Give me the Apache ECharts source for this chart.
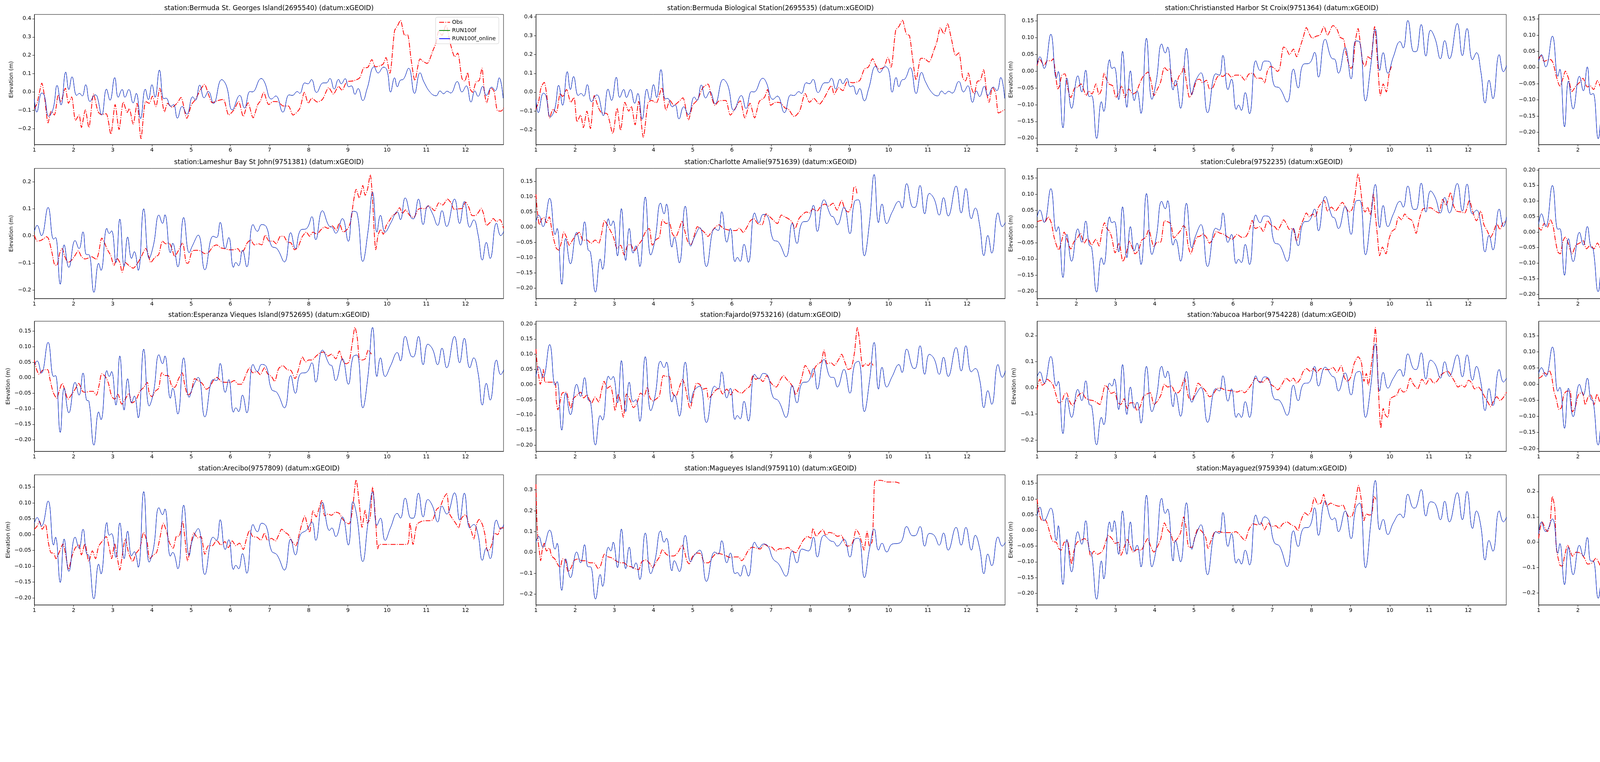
<!DOCTYPE html>
<html><head><meta charset="utf-8">
<script src="https://cdn.jsdelivr.net/npm/echarts@6/dist/echarts.min.js"></script>
<style>html,body{margin:0;padding:0;background:#fff}#c{width:5150px;height:1950px}</style>
</head><body><div id="c"></div>
<script>
// ---------- panel titles ----------
const titles = [
 "station:Bermuda St. Georges Island(2695540) (datum:xGEOID)",
 "station:Bermuda Biological Station(2695535) (datum:xGEOID)",
 "station:Christiansted Harbor St Croix(9751364) (datum:xGEOID)",
 "station:Lime Tree Bay(9751401) (datum:xGEOID)",
 "station:Lameshur Bay St John(9751381) (datum:xGEOID)",
 "station:Charlotte Amalie(9751639) (datum:xGEOID)",
 "station:Culebra(9752235) (datum:xGEOID)",
 "station:Isabel Segunda Vieques Island(9752619) (datum:xGEOID)",
 "station:Esperanza Vieques Island(9752695) (datum:xGEOID)",
 "station:Fajardo(9753216) (datum:xGEOID)",
 "station:Yabucoa Harbor(9754228) (datum:xGEOID)",
 "station:San Juan La Puntilla San Juan Bay(9755371) (datum:xGEOID)",
 "station:Arecibo(9757809) (datum:xGEOID)",
 "station:Magueyes Island(9759110) (datum:xGEOID)",
 "station:Mayaguez(9759394) (datum:xGEOID)",
 "station:Mona Island(9759938) (datum:xGEOID)"
];
const legendNames = ["Obs","RUN100f","RUN100f_online"];
const xTicks = [1,2,3,4,5,6,7,8,9,10,11,12];
const xMin = 1, xMax = 12.97;
// y-axis limits and tick steps per panel
const yMin  = [-0.286,-0.279,-0.219,-0.238,-0.231,-0.234,-0.222,-0.214,-0.237,-0.220,-0.243,-0.2085,-0.222,-0.252,-0.237,-0.247];
const yMax  = [0.423,0.4135,0.169,0.164,0.249,0.193,0.1795,0.205,0.182,0.209,0.255,0.195,0.189,0.3725,0.177,0.266];
const yStep = [0.1,0.1,0.05,0.05,0.1,0.05,0.05,0.05,0.05,0.05,0.1,0.05,0.05,0.1,0.05,0.1];

// ---------- model (RUN100f / RUN100f_online overlap) ----------
const bermudaT = [1.00,1.06,1.19,1.25,1.37,1.48,1.58,1.68,1.80,1.88,1.96,2.08,2.15,2.22,2.31,2.42,2.55,2.60,2.72,2.84,2.93,3.05,3.14,3.24,3.31,3.41,3.52,3.60,3.71,3.83,3.91,4.00,4.08,4.19,4.30,4.36,4.48,4.55,4.65,4.77,4.89,5.04,5.11,5.22,5.33,5.44,5.57,5.78,5.90,6.05,6.24,6.36,6.50,6.56,6.79,6.87,7.05,7.16,7.34,7.50,7.58,7.71,7.77,7.90,7.98,8.07,8.20,8.37,8.45,8.54,8.65,8.76,8.83,8.93,9.02,9.09,9.18,9.26,9.38,9.49,9.67,9.77,9.91,10.00,10.09,10.19,10.26,10.34,10.41,10.55,10.70,10.84,10.94,11.11,11.25,11.35,11.44,11.53,11.62,11.79,11.91,12.02,12.14,12.24,12.32,12.44,12.53,12.67,12.76,12.86,12.96];
const bermudaModel = [-0.038,-0.109,-0.005,-0.016,-0.132,-0.090,0.036,-0.070,0.109,0.014,0.083,-0.018,-0.007,-0.021,0.040,-0.051,-0.015,-0.023,-0.125,0.016,-0.044,0.079,-0.028,0.014,-0.028,0.014,-0.059,-0.007,-0.144,0.016,-0.041,0.040,-0.028,0.120,-0.036,-0.033,-0.078,-0.068,-0.142,-0.078,-0.120,-0.026,-0.044,0.038,-0.031,0.003,-0.062,0.068,0.034,-0.097,-0.018,-0.087,0.003,0.001,0.074,0.055,-0.038,-0.021,-0.109,-0.015,-0.018,0.003,-0.007,0.050,0.045,0.068,-0.002,0.050,0.050,0.074,0.017,0.069,0.045,0.073,0.029,0.034,-0.012,0.019,-0.046,0.019,0.138,0.104,0.136,0.117,0.000,0.078,0.029,0.065,0.069,0.130,-0.007,0.105,0.055,-0.004,-0.020,0.006,-0.009,0.005,-0.005,0.057,0.001,0.034,-0.054,0.006,-0.023,0.031,-0.018,0.027,0.008,0.078,-0.033];

const caribT = [1.00,1.07,1.18,1.35,1.49,1.54,1.66,1.76,1.88,2.04,2.14,2.24,2.33,2.39,2.52,2.64,2.70,2.85,2.91,2.97,3.08,3.18,3.29,3.38,3.48,3.55,3.65,3.79,3.93,4.04,4.18,4.27,4.33,4.47,4.53,4.66,4.81,4.95,5.03,5.18,5.35,5.56,5.65,5.74,5.87,5.96,6.08,6.14,6.21,6.31,6.42,6.58,6.69,6.80,6.92,7.05,7.19,7.38,7.54,7.66,7.79,7.95,8.08,8.18,8.35,8.53,8.59,8.69,8.86,9.01,9.13,9.23,9.38,9.51,9.63,9.74,9.83,9.95,10.09,10.26,10.34,10.46,10.61,10.67,10.80,10.92,11.04,11.16,11.29,11.40,11.52,11.72,11.85,11.97,12.11,12.21,12.32,12.43,12.53,12.63,12.79,12.90,12.98];

const modelChristiansted = [0.020,0.043,0.008,0.110,-0.021,-0.001,-0.169,-0.021,-0.111,-0.014,
-0.062,0.003,-0.076,-0.073,-0.201,-0.091,-0.120,0.034,0.008,0.012,
-0.085,0.059,-0.108,0.001,-0.088,-0.059,-0.126,0.098,-0.084,-0.030,
0.081,0.054,0.072,-0.056,-0.027,-0.111,0.068,-0.070,-0.033,-0.005,
-0.124,-0.008,-0.012,0.047,-0.055,-0.024,-0.114,-0.101,-0.117,-0.064,
-0.127,0.031,0.002,0.030,0.029,-0.043,-0.051,-0.092,0.006,-0.050,
0.020,0.024,0.056,-0.018,0.095,0.037,0.036,-0.006,0.070,-0.023,
0.090,0.087,-0.089,0.014,0.125,0.002,0.055,-0.006,0.043,0.088,
0.069,0.151,0.058,0.058,0.139,0.045,0.122,0.095,0.037,0.091,
0.037,0.142,0.046,0.127,0.034,0.055,0.000,-0.095,-0.027,-0.082,
0.049,-0.002,0.017];
const modelLimeTree = [0.019,0.040,0.002,0.097,-0.027,-0.005,-0.183,-0.042,-0.128,-0.027,
-0.072,0.002,-0.084,-0.080,-0.220,-0.108,-0.141,0.022,0.001,0.010,
-0.095,0.062,-0.108,-0.001,-0.087,-0.063,-0.128,0.093,-0.096,-0.045,
0.073,0.041,0.069,-0.069,-0.033,-0.116,0.070,-0.066,-0.036,0.001,
-0.129,-0.004,-0.011,0.048,-0.052,-0.008,-0.114,-0.098,-0.108,-0.054,
-0.112,0.047,0.019,0.047,0.045,-0.030,-0.039,-0.084,0.021,-0.039,
0.031,0.034,0.077,-0.010,0.102,0.043,0.041,-0.004,0.071,-0.019,
0.070,0.079,-0.093,0.016,0.145,0.010,0.066,0.004,0.046,0.087,
0.062,0.144,0.065,0.064,0.141,0.051,0.122,0.100,0.046,0.100,
0.037,0.135,0.045,0.125,0.025,0.051,0.010,-0.096,-0.030,-0.086,
0.046,-0.002,0.015];
const modelLameshur = [0.017,0.039,0.001,0.105,-0.012,-0.006,-0.178,-0.033,-0.116,-0.017,
-0.047,0.015,-0.069,-0.069,-0.208,-0.101,-0.127,0.028,0.009,0.019,
-0.098,0.062,-0.112,-0.004,-0.083,-0.058,-0.127,0.100,-0.083,-0.033,
0.077,0.046,0.078,-0.062,-0.027,-0.114,0.068,-0.062,-0.037,0.003,
-0.125,-0.001,-0.006,0.050,-0.047,-0.006,-0.116,-0.098,-0.110,-0.053,
-0.114,0.042,0.017,0.042,0.033,-0.037,-0.047,-0.096,0.012,-0.047,
0.021,0.028,0.071,-0.014,0.093,0.035,0.033,0.010,0.064,-0.020,
0.091,0.086,-0.094,0.014,0.161,0.014,0.076,0.014,0.047,0.089,
0.060,0.140,0.068,0.063,0.136,0.042,0.111,0.082,0.039,0.093,
0.035,0.136,0.046,0.127,0.032,0.059,0.005,-0.089,-0.024,-0.083,
0.047,0.001,0.017];
const modelCharlotte = [0.018,0.040,0.002,0.095,-0.024,-0.004,-0.187,-0.037,-0.120,-0.017,
-0.059,0.018,-0.074,-0.081,-0.213,-0.104,-0.138,0.028,0.005,0.021,
-0.094,0.061,-0.109,-0.004,-0.085,-0.061,-0.129,0.099,-0.091,-0.040,
0.079,0.044,0.076,-0.065,-0.033,-0.117,0.069,-0.062,-0.037,-0.001,
-0.129,-0.004,-0.011,0.051,-0.049,-0.004,-0.113,-0.099,-0.112,-0.056,
-0.115,0.047,0.015,0.042,0.034,-0.040,-0.049,-0.097,0.013,-0.053,
0.015,0.022,0.072,-0.014,0.090,0.037,0.034,0.008,0.066,-0.021,
0.085,0.090,-0.094,0.015,0.173,0.015,0.076,0.012,0.050,0.085,
0.063,0.143,0.066,0.065,0.137,0.044,0.111,0.093,0.040,0.097,
0.037,0.135,0.047,0.127,0.028,0.063,0.008,-0.093,-0.027,-0.085,
0.047,0.002,0.016];
const modelCulebra = [0.030,0.051,0.013,0.117,-0.015,0.000,-0.157,-0.024,-0.107,-0.007,
-0.048,0.017,-0.057,-0.063,-0.202,-0.096,-0.117,0.030,0.012,0.016,
-0.078,0.061,-0.096,0.000,-0.075,-0.051,-0.117,0.102,-0.086,-0.033,
0.078,0.055,0.080,-0.057,-0.039,-0.107,0.072,-0.066,-0.033,0.006,
-0.123,-0.005,-0.011,0.042,-0.049,-0.024,-0.114,-0.101,-0.111,-0.055,
-0.117,0.036,0.012,0.033,0.030,-0.048,-0.057,-0.107,-0.005,-0.059,
0.012,0.019,0.054,-0.013,0.093,0.030,0.027,-0.006,0.062,-0.024,
0.078,0.081,-0.087,0.024,0.130,-0.003,0.065,0.000,0.039,0.078,
0.060,0.125,0.053,0.053,0.134,0.045,0.110,0.089,0.042,0.090,
0.042,0.133,0.048,0.131,0.039,0.051,0.009,-0.078,-0.027,-0.072,
0.054,0.000,0.030];
const modelIsabel = [0.025,0.059,0.018,0.150,0.009,0.011,-0.139,-0.021,-0.095,-0.001,
-0.042,0.018,-0.048,-0.054,-0.192,-0.091,-0.100,0.032,0.018,0.023,
-0.060,0.082,-0.092,0.006,-0.070,-0.048,-0.117,0.100,-0.076,-0.027,
0.076,0.059,0.081,-0.050,-0.038,-0.104,0.074,-0.048,-0.023,0.006,
-0.121,-0.010,-0.013,0.037,-0.048,-0.016,-0.117,-0.106,-0.115,-0.060,
-0.123,0.028,0.013,0.034,0.031,-0.054,-0.058,-0.113,-0.013,-0.060,
0.011,0.011,0.048,-0.018,0.091,0.026,0.023,-0.006,0.056,-0.032,
0.081,0.081,-0.086,0.018,0.128,-0.023,0.053,-0.010,0.025,0.075,
0.050,0.122,0.040,0.043,0.130,0.037,0.108,0.087,0.037,0.087,
0.037,0.130,0.047,0.130,0.047,0.047,0.018,-0.073,-0.018,-0.062,
0.062,0.018,0.037];
const modelEsperanza = [0.042,0.054,0.015,0.114,0.004,0.007,-0.176,-0.034,-0.113,-0.015,
-0.056,0.015,-0.072,-0.075,-0.217,-0.110,-0.135,0.023,0.004,0.020,
-0.088,0.070,-0.104,-0.003,-0.081,-0.059,-0.129,0.092,-0.091,-0.047,
0.074,0.045,0.070,-0.066,-0.034,-0.117,0.064,-0.063,-0.034,0.001,
-0.126,-0.006,-0.009,0.046,-0.047,-0.006,-0.111,-0.097,-0.109,-0.056,
-0.113,0.043,0.020,0.043,0.035,-0.037,-0.048,-0.097,0.007,-0.050,
0.013,0.018,0.048,-0.014,0.089,0.042,0.039,-0.009,0.061,-0.021,
0.067,0.073,-0.097,0.004,0.162,0.004,0.064,0.004,0.039,0.081,
0.054,0.133,0.070,0.067,0.133,0.042,0.108,0.092,0.042,0.095,
0.032,0.133,0.048,0.127,0.032,0.064,0.016,-0.088,-0.018,-0.072,
0.057,0.010,0.026];
const modelFajardo = [0.027,0.059,0.024,0.132,-0.002,0.010,-0.150,-0.028,-0.099,0.001,
-0.039,0.023,-0.050,-0.054,-0.199,-0.102,-0.117,0.028,0.017,0.027,
-0.060,0.079,-0.089,0.008,-0.057,-0.050,-0.121,0.092,-0.086,-0.037,
0.077,0.056,0.074,-0.057,-0.034,-0.104,0.074,-0.060,-0.021,-0.005,
-0.125,-0.005,-0.015,0.042,-0.044,-0.012,-0.115,-0.102,-0.113,-0.055,
-0.120,0.034,0.019,0.037,0.028,-0.041,-0.054,-0.108,-0.003,-0.060,
0.005,0.011,0.053,-0.015,0.083,0.024,0.024,-0.008,0.050,-0.028,
0.067,0.077,-0.089,0.011,0.139,-0.015,0.057,-0.008,0.027,0.066,
0.040,0.117,0.056,0.053,0.128,0.034,0.100,0.085,0.034,0.090,
0.027,0.122,0.045,0.128,0.042,0.053,0.017,-0.076,-0.020,-0.065,
0.066,0.024,0.046];
const modelYabucoa = [0.042,0.061,0.018,0.120,0.007,0.025,-0.175,-0.038,-0.113,-0.006,
-0.049,0.027,-0.064,-0.068,-0.218,-0.113,-0.141,0.018,0.007,0.034,
-0.083,0.089,-0.102,0.003,-0.078,-0.055,-0.135,0.082,-0.091,-0.038,
0.082,0.039,0.064,-0.072,-0.019,-0.109,0.063,-0.055,-0.031,0.001,
-0.132,-0.003,-0.012,0.046,-0.051,-0.004,-0.113,-0.098,-0.113,-0.053,
-0.113,0.046,0.019,0.042,0.033,-0.042,-0.049,-0.105,0.010,-0.049,
0.014,0.022,0.082,0.007,0.079,0.044,0.040,-0.012,0.057,-0.027,
0.055,0.063,-0.113,0.003,0.168,-0.012,0.059,-0.001,0.037,0.070,
0.044,0.130,0.072,0.070,0.134,0.034,0.106,0.089,0.037,0.100,
0.044,0.126,0.042,0.126,0.029,0.082,0.022,-0.087,-0.003,-0.068,
0.070,0.022,0.038];
const modelSanJuan = [0.033,0.051,0.024,0.115,-0.022,-0.010,-0.137,-0.013,-0.101,-0.001,
-0.034,0.018,-0.047,-0.052,-0.189,-0.089,-0.107,0.039,0.005,0.004,
-0.064,0.038,-0.083,0.005,-0.063,-0.055,-0.104,0.125,-0.073,-0.034,
0.084,0.070,0.086,-0.058,-0.058,-0.104,0.086,-0.058,-0.022,0.015,
-0.119,-0.013,-0.019,0.039,-0.046,-0.022,-0.113,-0.102,-0.113,-0.064,
-0.125,0.021,0.004,0.028,0.021,-0.049,-0.064,-0.116,-0.022,-0.069,
0.002,0.013,0.012,-0.022,0.093,0.008,0.012,-0.007,0.054,-0.034,
0.072,0.096,-0.073,0.024,0.113,0.013,0.068,-0.010,0.027,0.070,
0.051,0.117,0.042,0.045,0.129,0.051,0.109,0.093,0.051,0.087,
0.060,0.136,0.051,0.133,0.027,0.024,0.002,-0.070,-0.043,-0.073,
0.046,0.016,0.033];
const modelArecibo = [0.036,0.054,0.027,0.106,-0.033,-0.008,-0.151,-0.014,-0.116,-0.008,
-0.043,0.017,-0.060,-0.066,-0.203,-0.093,-0.124,0.038,-0.002,0.003,
-0.072,0.037,-0.076,0.011,-0.067,-0.054,-0.103,0.136,-0.087,-0.043,
0.085,0.063,0.081,-0.068,-0.056,-0.108,0.093,-0.066,-0.018,0.019,
-0.126,-0.008,-0.018,0.047,-0.047,-0.016,-0.110,-0.097,-0.108,-0.060,
-0.122,0.032,0.009,0.036,0.025,-0.051,-0.064,-0.112,-0.014,-0.064,
0.000,0.015,0.040,-0.018,0.102,0.013,0.021,-0.006,0.056,-0.033,
0.104,0.056,-0.085,0.036,0.135,0.029,0.052,-0.018,0.023,0.067,
0.052,0.115,0.052,0.052,0.131,0.056,0.111,0.090,0.040,0.090,
0.065,0.132,0.046,0.131,0.021,0.032,0.000,-0.081,-0.043,-0.076,
0.046,0.017,0.032];
const modelMagueyes = [0.049,0.077,0.025,0.107,0.016,0.044,-0.182,-0.031,-0.121,0.002,
-0.050,0.037,-0.069,-0.069,-0.224,-0.106,-0.163,0.025,0.007,0.049,
-0.073,0.112,-0.078,0.025,-0.078,-0.050,-0.130,0.093,-0.102,-0.036,
0.103,0.049,0.068,-0.088,-0.040,-0.092,0.082,-0.045,-0.017,0.011,
-0.139,0.002,-0.008,0.056,-0.050,-0.003,-0.102,-0.097,-0.114,-0.061,
-0.114,0.049,0.021,0.040,0.030,-0.031,-0.055,-0.114,0.007,-0.050,
0.016,0.007,0.073,-0.022,0.082,0.054,0.052,0.030,0.063,-0.022,
0.063,0.068,-0.121,0.016,0.112,0.011,0.044,0.002,0.040,0.044,
0.058,0.124,0.080,0.080,0.124,0.030,0.091,0.082,0.035,0.093,
0.011,0.120,0.035,0.120,0.011,0.082,0.021,-0.102,-0.008,-0.064,
0.074,0.030,0.049];
const modelMayaguez = [0.046,0.074,0.031,0.071,-0.032,0.015,-0.172,-0.029,-0.132,-0.004,
-0.044,0.031,-0.063,-0.072,-0.219,-0.097,-0.154,0.027,-0.004,0.031,
-0.076,0.062,-0.076,0.027,-0.066,-0.047,-0.116,0.112,-0.116,-0.057,
0.102,0.054,0.068,-0.097,-0.032,-0.100,0.088,-0.060,-0.022,0.018,
-0.141,-0.004,-0.010,0.057,-0.051,-0.010,-0.104,-0.091,-0.107,-0.063,
-0.110,0.049,0.018,0.043,0.031,-0.038,-0.051,-0.115,-0.001,-0.051,
0.006,0.012,0.072,-0.016,0.093,0.034,0.040,-0.004,0.062,-0.026,
0.071,0.087,-0.119,0.018,0.159,0.002,0.035,-0.013,0.024,0.052,
0.040,0.115,0.071,0.074,0.130,0.046,0.091,0.084,0.034,0.093,
0.027,0.120,0.034,0.124,0.006,0.062,0.015,-0.094,-0.032,-0.066,
0.062,0.027,0.043];
const modelMona = [0.034,0.080,0.042,0.092,-0.043,-0.005,-0.167,-0.020,-0.128,-0.012,
-0.055,0.019,-0.074,-0.074,-0.221,-0.113,-0.152,0.011,-0.020,0.003,
-0.090,0.065,-0.082,0.030,-0.059,-0.039,-0.105,0.115,-0.109,-0.036,
0.092,0.061,0.074,-0.082,-0.043,-0.105,0.088,-0.051,-0.024,0.019,
-0.128,0.007,-0.020,0.057,-0.039,-0.024,-0.094,-0.082,-0.094,-0.047,
-0.101,0.053,0.022,0.048,0.034,-0.036,-0.051,-0.105,-0.001,-0.059,
0.011,0.019,0.061,-0.009,0.100,0.026,0.022,0.003,0.065,-0.024,
0.050,0.080,-0.121,0.011,0.084,0.026,0.042,-0.020,0.019,0.053,
0.042,0.100,0.050,0.053,0.138,0.053,0.108,0.088,0.026,0.096,
0.042,0.127,0.034,0.131,0.011,0.053,0.003,-0.078,-0.036,-0.074,
0.069,0.030,0.050];

// ---------- observations [day, elevation m] ----------
const obsStGeorges = [[1.00,-0.090],[1.07,-0.061],[1.12,-0.011],[1.19,0.049],[1.26,-0.026],[1.35,-0.168],[1.43,-0.104],[1.51,-0.125],[1.61,-0.015],[1.67,-0.054],[1.79,0.021],[1.87,-0.061],[1.95,-0.026],[2.05,-0.154],[2.14,-0.125],[2.20,-0.193],[2.30,-0.097],[2.39,-0.193],[2.51,-0.011],[2.62,-0.104],[2.70,-0.122],[2.83,-0.118],[2.95,-0.229],[3.06,-0.068],[3.16,-0.204],[3.27,-0.054],[3.37,-0.111],[3.42,-0.090],[3.52,-0.175],[3.62,-0.061],[3.72,-0.254],[3.84,-0.051],[3.93,-0.061],[4.01,-0.022],[4.10,-0.079],[4.20,0.021],[4.32,-0.108],[4.40,-0.061],[4.51,-0.083],[4.65,-0.058],[4.74,-0.029],[4.89,-0.143],[5.01,-0.068],[5.11,-0.040],[5.23,0.010],[5.34,0.042],[5.44,-0.011],[5.54,-0.058],[5.67,-0.047],[5.82,-0.040],[5.96,-0.125],[6.09,-0.097],[6.21,-0.051],[6.33,-0.133],[6.45,-0.058],[6.58,-0.140],[6.70,-0.068],[6.77,-0.047],[6.85,-0.001],[6.98,-0.068],[7.10,-0.051],[7.23,-0.054],[7.35,-0.076],[7.48,-0.076],[7.60,-0.125],[7.77,-0.090],[7.89,-0.001],[7.99,-0.061],[8.08,-0.033],[8.22,-0.054],[8.35,-0.040],[8.51,0.024],[8.63,-0.011],[8.76,0.031],[8.85,0.010],[8.97,0.056],[9.14,0.061],[9.30,0.078],[9.40,0.131],[9.51,0.135],[9.61,0.177],[9.70,0.138],[9.80,0.142],[9.90,0.153],[9.97,0.188],[10.07,0.103],[10.19,0.334],[10.27,0.363],[10.34,0.391],[10.45,0.309],[10.52,0.313],[10.61,0.181],[10.71,0.063],[10.84,0.181],[10.92,0.167],[11.02,0.156],[11.17,0.227],[11.25,0.270],[11.32,0.334],[11.40,0.309],[11.50,0.366],[11.61,0.267],[11.73,0.192],[11.80,0.213],[11.91,0.074],[11.98,0.060],[12.05,0.106],[12.12,0.017],[12.18,-0.001],[12.27,0.056],[12.35,0.063],[12.42,0.131],[12.48,0.003],[12.54,-0.058],[12.65,0.024],[12.73,0.003],[12.81,-0.100],[12.90,-0.104],[12.98,-0.086]];
const obsBermudaBio = [[1.00,-0.090],[1.07,-0.049],[1.13,0.024],[1.21,0.052],[1.27,-0.007],[1.35,-0.137],[1.44,-0.090],[1.52,-0.109],[1.62,-0.007],[1.68,-0.023],[1.78,0.014],[1.89,-0.054],[1.97,-0.028],[2.05,-0.158],[2.14,-0.122],[2.21,-0.189],[2.30,-0.101],[2.39,-0.194],[2.49,-0.018],[2.59,-0.080],[2.67,-0.109],[2.82,-0.116],[2.96,-0.220],[3.07,-0.085],[3.16,-0.203],[3.27,-0.054],[3.37,-0.101],[3.43,-0.075],[3.53,-0.174],[3.62,-0.049],[3.74,-0.241],[3.86,-0.057],[3.95,-0.044],[4.07,-0.057],[4.21,0.024],[4.32,-0.096],[4.42,-0.044],[4.52,-0.070],[4.65,-0.049],[4.75,-0.030],[4.89,-0.148],[5.00,-0.070],[5.12,-0.041],[5.26,0.024],[5.39,0.043],[5.47,-0.018],[5.57,-0.070],[5.67,-0.047],[5.84,-0.044],[5.96,-0.122],[6.09,-0.085],[6.21,-0.046],[6.33,-0.137],[6.46,-0.059],[6.58,-0.137],[6.70,-0.049],[6.83,-0.028],[6.91,0.014],[6.99,-0.070],[7.12,-0.054],[7.24,-0.057],[7.36,-0.085],[7.44,-0.090],[7.59,-0.130],[7.73,-0.099],[7.87,-0.007],[7.98,-0.054],[8.09,-0.033],[8.23,-0.064],[8.35,-0.033],[8.54,0.034],[8.61,-0.012],[8.72,0.024],[8.83,0.008],[8.94,0.055],[9.09,0.050],[9.26,0.062],[9.38,0.123],[9.48,0.133],[9.59,0.178],[9.67,0.143],[9.75,0.123],[9.88,0.133],[9.98,0.185],[10.06,0.133],[10.18,0.330],[10.26,0.349],[10.35,0.383],[10.45,0.310],[10.53,0.301],[10.61,0.180],[10.70,0.065],[10.82,0.180],[10.89,0.180],[11.03,0.161],[11.15,0.221],[11.23,0.268],[11.32,0.343],[11.41,0.310],[11.50,0.364],[11.60,0.284],[11.71,0.195],[11.79,0.209],[11.89,0.076],[11.96,0.060],[12.03,0.102],[12.11,0.024],[12.18,-0.009],[12.26,0.057],[12.34,0.063],[12.42,0.120],[12.50,-0.002],[12.56,-0.054],[12.65,0.026],[12.73,-0.007],[12.80,-0.111],[12.88,-0.103],[12.96,-0.093]];
const obsChristiansted = [[1.00,0.017],[1.06,0.037],[1.18,0.017],[1.26,0.031],[1.36,0.031],[1.41,0.037],[1.46,0.002],[1.53,-0.053],[1.57,-0.044],[1.63,-0.012],[1.71,-0.008],[1.77,-0.044],[1.86,-0.079],[1.96,-0.050],[2.04,-0.047],[2.12,-0.038],[2.19,-0.056],[2.25,-0.073],[2.32,-0.059],[2.40,-0.068],[2.50,-0.038],[2.58,-0.070],[2.64,-0.056],[2.71,-0.006],[2.76,-0.021],[2.83,-0.038],[2.93,-0.044],[3.01,-0.079],[3.09,-0.062],[3.16,-0.044],[3.24,-0.079],[3.34,-0.053],[3.44,-0.068],[3.53,-0.062],[3.63,-0.033],[3.71,-0.015],[3.83,-0.003],[3.92,-0.038],[3.98,-0.073],[4.06,-0.056],[4.15,-0.033],[4.25,0.011],[4.33,0.002],[4.39,0.008],[4.45,-0.033],[4.53,-0.044],[4.62,-0.015],[4.70,-0.003],[4.74,0.014],[4.81,-0.033],[4.89,-0.079],[4.99,-0.056],[5.07,-0.027],[5.15,-0.024],[5.22,-0.035],[5.32,-0.027],[5.40,-0.053],[5.48,-0.050],[5.58,-0.021],[5.65,-0.012],[5.74,-0.016],[5.85,-0.006],[5.96,-0.018],[6.06,-0.012],[6.18,-0.012],[6.30,-0.027],[6.40,-0.009],[6.51,-0.006],[6.59,-0.021],[6.72,-0.021],[6.80,-0.035],[6.88,0.002],[6.96,0.014],[7.06,0.008],[7.13,-0.001],[7.19,0.008],[7.29,0.072],[7.36,0.066],[7.44,0.049],[7.54,0.066],[7.62,0.043],[7.71,0.072],[7.79,0.101],[7.87,0.130],[7.95,0.110],[8.02,0.098],[8.12,0.104],[8.22,0.108],[8.32,0.133],[8.41,0.107],[8.55,0.136],[8.65,0.125],[8.73,0.101],[8.82,0.095],[8.87,0.061],[8.94,0.026],[9.01,0.008],[9.06,0.020],[9.12,0.090],[9.19,0.127],[9.25,0.078],[9.31,0.026],[9.37,0.014],[9.44,0.043],[9.51,0.037],[9.61,0.133],[9.69,0.020],[9.76,-0.073],[9.83,-0.038],[9.91,-0.062],[9.98,-0.009],[10.04,0.014]];
const obsLimeTree = [[1.00,0.028],[1.06,0.037],[1.14,0.019],[1.22,0.023],[1.30,0.025],[1.37,0.013],[1.45,-0.027],[1.54,-0.057],[1.62,-0.033],[1.68,-0.011],[1.76,-0.033],[1.85,-0.074],[1.95,-0.057],[2.05,-0.045],[2.13,-0.033],[2.24,-0.060],[2.32,-0.057],[2.40,-0.068],[2.50,-0.040],[2.61,-0.069],[2.69,-0.021],[2.75,-0.011],[2.84,-0.037],[2.92,-0.031],[3.02,-0.068],[3.10,-0.051],[3.17,-0.057],[3.24,-0.081],[3.33,-0.051],[3.43,-0.069],[3.53,-0.063],[3.61,-0.033],[3.69,-0.018],[3.78,-0.008],[3.84,-0.030],[3.94,-0.072],[4.03,-0.057],[4.11,-0.045],[4.19,0.004],[4.27,0.025],[4.34,0.004],[4.42,0.004],[4.50,-0.030],[4.58,-0.024],[4.67,0.004],[4.75,0.028],[4.80,0.007],[4.87,-0.057],[4.94,-0.069],[5.03,-0.045],[5.12,-0.027],[5.20,-0.042],[5.31,-0.045],[5.39,-0.054],[5.49,-0.044],[5.59,-0.024],[5.67,-0.015],[5.78,-0.018],[5.90,-0.011],[6.01,-0.018],[6.11,-0.021],[6.21,-0.018],[6.30,-0.036],[6.40,-0.027],[6.52,-0.005],[6.62,-0.030],[6.73,-0.025],[6.78,-0.045],[6.87,-0.011],[6.97,0.022],[7.07,0.010],[7.15,0.001],[7.22,0.046],[7.32,0.079],[7.38,0.067],[7.47,0.058],[7.55,0.073],[7.63,0.043],[7.71,0.061],[7.80,0.085],[7.88,0.112],[7.96,0.097],[8.06,0.102],[8.17,0.096],[8.27,0.109],[8.37,0.115],[8.45,0.103],[8.58,0.125],[8.65,0.106],[8.77,0.091],[8.87,0.058],[8.92,0.022],[9.01,0.004],[9.09,0.040],[9.18,0.088],[9.26,0.058],[9.34,0.004],[9.43,0.016],[9.51,0.028],[9.61,0.115],[9.69,0.103],[10.04,0.103],[10.10,0.052],[10.14,-0.008],[10.19,0.016],[10.25,0.073],[10.31,0.034],[10.37,0.022],[10.40,0.028]];
const obsLameshur = [[1.00,0.003],[1.07,-0.019],[1.16,-0.017],[1.24,-0.010],[1.31,-0.003],[1.36,-0.010],[1.45,-0.062],[1.51,-0.104],[1.57,-0.109],[1.65,-0.062],[1.71,-0.047],[1.77,-0.073],[1.86,-0.098],[1.94,-0.091],[2.02,-0.076],[2.12,-0.055],[2.20,-0.076],[2.29,-0.085],[2.37,-0.082],[2.45,-0.076],[2.53,-0.082],[2.58,-0.087],[2.64,-0.062],[2.72,-0.008],[2.78,-0.022],[2.85,-0.047],[2.95,-0.073],[3.03,-0.109],[3.11,-0.083],[3.18,-0.098],[3.24,-0.134],[3.32,-0.098],[3.41,-0.109],[3.52,-0.119],[3.63,-0.101],[3.73,-0.076],[3.84,-0.046],[3.90,-0.065],[3.97,-0.098],[4.07,-0.080],[4.17,-0.069],[4.27,-0.019],[4.35,-0.029],[4.43,-0.026],[4.51,-0.047],[4.58,-0.076],[4.66,-0.058],[4.78,-0.026],[4.87,-0.098],[4.92,-0.101],[5.03,-0.055],[5.14,-0.053],[5.24,-0.055],[5.34,-0.065],[5.44,-0.062],[5.55,-0.040],[5.65,-0.033],[5.76,-0.044],[5.86,-0.047],[5.96,-0.051],[6.08,-0.051],[6.19,-0.047],[6.27,-0.062],[6.35,-0.051],[6.43,-0.026],[6.52,-0.015],[6.61,-0.033],[6.72,-0.029],[6.80,-0.033],[6.89,0.003],[6.99,-0.019],[7.09,-0.019],[7.17,-0.029],[7.28,-0.001],[7.36,-0.001],[7.45,-0.022],[7.55,-0.026],[7.64,-0.051],[7.73,-0.040],[7.83,-0.004],[7.94,0.014],[8.02,-0.001],[8.11,0.014],[8.21,0.006],[8.30,0.021],[8.41,0.033],[8.49,0.028],[8.60,0.037],[8.70,0.021],[8.78,0.047],[8.88,0.014],[8.99,0.026],[9.07,0.053],[9.14,0.125],[9.21,0.172],[9.29,0.140],[9.38,0.186],[9.44,0.150],[9.50,0.172],[9.57,0.226],[9.63,0.132],[9.67,0.017],[9.71,-0.051],[9.77,0.003],[9.84,0.024],[9.90,0.006],[9.98,0.039],[10.06,0.057],[10.14,0.075],[10.22,0.082],[10.32,0.104],[10.39,0.083],[10.47,0.096],[10.58,0.075],[10.68,0.068],[10.78,0.096],[10.86,0.102],[10.97,0.100],[11.05,0.111],[11.13,0.104],[11.21,0.093],[11.32,0.122],[11.42,0.114],[11.54,0.136],[11.63,0.122],[11.71,0.098],[11.82,0.100],[11.92,0.102],[12.00,0.125],[12.08,0.107],[12.17,0.075],[12.25,0.075],[12.34,0.089],[12.40,0.102],[12.46,0.082],[12.54,0.039],[12.63,0.050],[12.71,0.064],[12.79,0.053],[12.88,0.060],[12.97,0.028]];
const obsCharlotte = [[1.00,0.108],[1.04,0.047],[1.09,0.008],[1.15,0.028],[1.21,0.031],[1.27,0.015],[1.34,0.034],[1.40,-0.004],[1.45,-0.037],[1.52,-0.069],[1.58,-0.075],[1.65,-0.049],[1.71,-0.016],[1.78,-0.033],[1.85,-0.059],[1.93,-0.043],[2.01,-0.027],[2.11,-0.017],[2.20,-0.043],[2.30,-0.042],[2.41,-0.053],[2.51,-0.042],[2.60,-0.053],[2.67,-0.024],[2.75,0.022],[2.82,0.008],[2.90,-0.011],[2.98,-0.033],[3.07,-0.069],[3.16,-0.059],[3.25,-0.091],[3.33,-0.062],[3.41,-0.056],[3.51,-0.078],[3.59,-0.062],[3.70,-0.043],[3.80,-0.014],[3.89,-0.004],[3.97,-0.059],[4.07,-0.040],[4.15,-0.033],[4.23,0.024],[4.32,0.012],[4.40,0.015],[4.48,-0.021],[4.56,-0.033],[4.65,-0.008],[4.73,0.021],[4.79,-0.008],[4.88,-0.049],[4.96,-0.056],[5.04,-0.027],[5.12,0.002],[5.22,-0.008],[5.30,-0.017],[5.39,-0.030],[5.47,-0.017],[5.57,-0.001],[5.67,0.008],[5.78,-0.004],[5.88,-0.008],[6.00,-0.011],[6.11,-0.011],[6.19,-0.003],[6.29,-0.017],[6.39,0.002],[6.47,0.021],[6.56,0.028],[6.66,0.012],[6.77,0.008],[6.87,0.044],[6.97,0.034],[7.05,0.024],[7.16,0.012],[7.26,0.040],[7.35,0.034],[7.44,0.028],[7.53,0.018],[7.61,-0.004],[7.71,0.028],[7.79,0.040],[7.90,0.050],[7.98,0.047],[8.06,0.060],[8.17,0.053],[8.27,0.069],[8.37,0.076],[8.47,0.069],[8.58,0.079],[8.68,0.056],[8.80,0.088],[8.88,0.060],[8.97,0.050],[9.05,0.069],[9.11,0.130],[9.15,0.133],[9.19,0.111]];
const obsCulebra = [[1.00,0.015],[1.12,0.019],[1.20,0.015],[1.28,0.030],[1.36,0.012],[1.44,-0.036],[1.55,-0.072],[1.63,-0.042],[1.69,-0.017],[1.77,-0.042],[1.86,-0.069],[1.94,-0.047],[2.04,-0.033],[2.10,-0.020],[2.20,-0.051],[2.29,-0.036],[2.39,-0.057],[2.50,-0.039],[2.58,-0.060],[2.66,-0.011],[2.72,0.012],[2.78,-0.006],[2.85,-0.015],[2.91,-0.036],[2.99,-0.081],[3.09,-0.051],[3.19,-0.108],[3.27,-0.084],[3.36,-0.045],[3.42,-0.063],[3.50,-0.084],[3.59,-0.072],[3.67,-0.042],[3.77,-0.033],[3.85,-0.009],[3.90,-0.030],[3.98,-0.063],[4.06,-0.048],[4.15,-0.048],[4.25,0.018],[4.33,0.015],[4.41,0.009],[4.49,-0.035],[4.58,-0.024],[4.66,-0.012],[4.74,0.003],[4.80,-0.009],[4.85,-0.057],[4.92,-0.084],[4.99,-0.060],[5.07,-0.033],[5.15,-0.030],[5.23,-0.023],[5.32,-0.033],[5.40,-0.051],[5.48,-0.039],[5.58,-0.015],[5.66,-0.020],[5.77,-0.024],[5.87,-0.033],[5.98,-0.039],[6.10,-0.024],[6.22,-0.033],[6.30,-0.033],[6.40,-0.015],[6.49,0.019],[6.57,-0.006],[6.68,0.000],[6.77,-0.015],[6.88,0.018],[6.98,0.003],[7.06,0.000],[7.14,-0.011],[7.21,0.003],[7.29,0.021],[7.36,0.009],[7.44,-0.009],[7.52,-0.005],[7.62,-0.045],[7.72,0.000],[7.79,0.021],[7.87,0.042],[7.95,0.030],[8.03,0.039],[8.10,0.030],[8.18,0.060],[8.32,0.081],[8.41,0.048],[8.51,0.060],[8.61,0.048],[8.69,0.060],[8.79,0.075],[8.87,0.060],[8.96,0.045],[9.04,0.054],[9.11,0.096],[9.19,0.163],[9.25,0.120],[9.31,0.060],[9.37,0.045],[9.43,0.060],[9.50,0.036],[9.58,0.102],[9.62,0.048],[9.68,-0.024],[9.74,-0.090],[9.81,-0.063],[9.90,-0.084],[9.97,-0.042],[10.05,-0.015],[10.14,-0.006],[10.22,0.030],[10.30,0.021],[10.38,0.039],[10.46,0.027],[10.57,0.018],[10.67,-0.021],[10.75,0.021],[10.84,0.054],[10.93,0.057],[11.04,0.058],[11.16,0.048],[11.25,0.042],[11.35,0.084],[11.43,0.066],[11.55,0.105],[11.62,0.066],[11.70,0.048],[11.82,0.045],[11.91,0.042],[12.03,0.081],[12.11,0.048],[12.21,0.018],[12.32,0.048],[12.40,0.006],[12.48,-0.012],[12.57,-0.033],[12.65,-0.015],[12.73,0.009],[12.81,-0.009],[12.89,0.012],[12.98,0.015]];
const obsIsabel = [[1.00,0.015],[1.06,0.006],[1.14,0.028],[1.22,0.015],[1.30,0.040],[1.37,0.018],[1.43,-0.029],[1.49,-0.064],[1.55,-0.070],[1.62,-0.029],[1.68,-0.016],[1.77,-0.042],[1.85,-0.070],[1.95,-0.042],[2.05,-0.035],[2.13,-0.026],[2.22,-0.054],[2.32,-0.042],[2.41,-0.054],[2.50,-0.035],[2.59,-0.057],[2.66,-0.016],[2.72,0.021],[2.79,0.006],[2.83,-0.007],[2.91,-0.019],[3.00,-0.086],[3.08,-0.038],[3.15,-0.057],[3.22,-0.108],[3.30,-0.038],[3.38,-0.073],[3.46,-0.076],[3.53,-0.082],[3.62,-0.045],[3.69,-0.035],[3.78,-0.023],[3.86,0.018],[3.92,-0.023],[3.98,-0.060],[4.08,-0.042],[4.17,-0.045],[4.25,0.025],[4.31,0.028],[4.39,0.031],[4.48,-0.026],[4.58,-0.029],[4.67,-0.007],[4.75,0.009],[4.80,-0.004],[4.88,-0.070],[4.95,-0.076],[5.03,-0.038],[5.12,-0.001],[5.21,-0.013],[5.30,-0.019],[5.41,-0.048],[5.49,-0.038],[5.60,-0.004],[5.72,-0.023],[5.81,-0.026],[5.93,-0.029],[6.07,-0.019],[6.18,-0.023],[6.28,-0.029],[6.39,-0.013],[6.49,0.031],[6.57,0.015],[6.68,0.025],[6.78,0.006],[6.89,0.034],[6.98,0.009],[7.09,-0.001],[7.17,-0.004],[7.29,0.037],[7.38,0.025],[7.47,0.012],[7.56,-0.007],[7.62,-0.019],[7.72,0.025],[7.83,0.069],[7.91,0.056],[7.99,0.034],[8.07,0.059],[8.16,0.072],[8.24,0.094],[8.32,0.109],[8.41,0.065],[8.49,0.075],[8.57,0.065],[8.68,0.081],[8.78,0.100],[8.86,0.081],[8.94,0.050],[9.04,0.050],[9.11,0.094],[9.19,0.186],[9.26,0.144],[9.32,0.062],[9.39,0.075],[9.45,0.062],[9.52,0.056],[9.58,0.157],[9.64,0.062],[9.70,-0.057],[9.75,-0.076],[9.81,-0.051],[9.89,-0.081],[9.97,-0.045],[10.06,-0.007],[10.15,0.009],[10.26,0.057],[10.34,0.031],[10.44,0.050],[10.52,0.040],[10.60,0.021]];
const obsEsperanza = [[1.00,0.057],[1.05,0.029],[1.12,0.011],[1.20,0.023],[1.28,0.026],[1.34,0.026],[1.40,-0.006],[1.48,-0.047],[1.57,-0.066],[1.63,-0.044],[1.71,-0.018],[1.77,-0.037],[1.86,-0.069],[1.94,-0.056],[2.04,-0.037],[2.13,-0.018],[2.23,-0.044],[2.31,-0.047],[2.41,-0.044],[2.50,-0.044],[2.58,-0.056],[2.65,-0.025],[2.72,0.013],[2.81,0.004],[2.89,-0.018],[2.97,-0.059],[3.05,-0.069],[3.13,-0.053],[3.23,-0.085],[3.32,-0.069],[3.41,-0.050],[3.49,-0.081],[3.59,-0.072],[3.69,-0.044],[3.79,-0.031],[3.88,-0.015],[3.93,-0.050],[4.00,-0.061],[4.08,-0.044],[4.17,-0.034],[4.25,0.016],[4.33,0.007],[4.41,0.007],[4.50,-0.025],[4.58,-0.031],[4.68,-0.003],[4.77,0.016],[4.84,-0.025],[4.92,-0.056],[5.00,-0.047],[5.09,-0.003],[5.18,-0.009],[5.28,-0.018],[5.39,-0.037],[5.48,-0.028],[5.58,-0.006],[5.66,0.001],[5.77,-0.012],[5.88,-0.015],[6.00,-0.015],[6.10,-0.009],[6.20,-0.021],[6.28,-0.021],[6.39,0.007],[6.49,0.032],[6.57,0.016],[6.68,0.020],[6.76,0.010],[6.87,0.032],[6.95,0.013],[7.05,0.004],[7.13,-0.012],[7.23,0.029],[7.34,0.039],[7.45,0.026],[7.55,0.023],[7.65,-0.003],[7.73,0.023],[7.84,0.067],[7.92,0.051],[8.00,0.057],[8.08,0.057],[8.19,0.070],[8.29,0.080],[8.38,0.083],[8.49,0.070],[8.58,0.076],[8.69,0.061],[8.78,0.086],[8.87,0.054],[8.95,0.045],[9.03,0.051],[9.11,0.111],[9.18,0.162],[9.24,0.127],[9.29,0.061],[9.36,0.057],[9.44,0.061],[9.52,0.089],[9.60,0.076]];
const obsFajardo = [[1.00,0.117],[1.02,0.082],[1.07,0.030],[1.11,0.001],[1.15,0.017],[1.19,0.050],[1.23,0.008],[1.27,0.008],[1.48,0.008],[1.52,-0.054],[1.56,-0.083],[1.62,-0.054],[1.67,-0.028],[1.77,-0.025],[1.83,-0.050],[1.89,-0.079],[1.95,-0.047],[2.03,-0.037],[2.14,-0.025],[2.22,-0.044],[2.30,-0.034],[2.41,-0.063],[2.51,-0.041],[2.60,-0.057],[2.67,-0.021],[2.74,0.011],[2.82,-0.012],[2.90,-0.005],[2.96,-0.034],[3.02,-0.086],[3.10,-0.031],[3.16,-0.060],[3.23,-0.108],[3.31,-0.031],[3.40,-0.050],[3.49,-0.076],[3.58,-0.060],[3.67,-0.028],[3.76,-0.037],[3.84,-0.008],[3.91,-0.044],[3.99,-0.054],[4.07,-0.047],[4.15,-0.037],[4.25,0.030],[4.32,0.027],[4.40,0.027],[4.48,-0.025],[4.56,-0.041],[4.65,-0.012],[4.74,0.017],[4.81,-0.008],[4.88,-0.054],[4.93,-0.079],[5.02,-0.034],[5.10,0.005],[5.18,0.001],[5.26,-0.015],[5.35,-0.012],[5.40,-0.047],[5.49,-0.034],[5.59,-0.018],[5.68,-0.012],[5.76,-0.031],[5.87,-0.015],[5.97,-0.034],[6.07,-0.015],[6.17,-0.025],[6.25,-0.028],[6.36,-0.015],[6.46,-0.005],[6.54,0.030],[6.61,0.017],[6.69,0.023],[6.79,0.010],[6.89,0.030],[6.97,0.011],[7.05,-0.002],[7.13,-0.008],[7.24,0.017],[7.32,0.030],[7.40,0.017],[7.49,0.005],[7.57,-0.012],[7.63,-0.034],[7.71,-0.008],[7.79,0.027],[7.87,0.063],[7.95,0.050],[8.04,0.024],[8.12,0.056],[8.20,0.069],[8.28,0.075],[8.35,0.114],[8.43,0.069],[8.53,0.072],[8.61,0.063],[8.72,0.082],[8.80,0.100],[8.88,0.075],[8.97,0.050],[9.05,0.056],[9.13,0.108],[9.20,0.188],[9.25,0.153],[9.34,0.059],[9.40,0.069],[9.48,0.063],[9.55,0.075],[9.60,0.063]];
const obsYabucoa = [[1.00,-0.008],[1.03,0.018],[1.07,0.033],[1.13,0.010],[1.20,0.018],[1.26,0.033],[1.35,0.022],[1.41,0.010],[1.49,-0.031],[1.55,-0.057],[1.63,-0.053],[1.69,-0.027],[1.75,-0.019],[1.82,-0.049],[1.90,-0.068],[1.98,-0.049],[2.06,-0.027],[2.15,-0.019],[2.23,-0.038],[2.33,-0.046],[2.43,-0.049],[2.53,-0.057],[2.60,-0.064],[2.66,-0.034],[2.74,0.010],[2.81,-0.001],[2.89,-0.021],[2.98,-0.016],[3.05,-0.053],[3.13,-0.064],[3.22,-0.042],[3.30,-0.079],[3.38,-0.057],[3.46,-0.057],[3.55,-0.087],[3.63,-0.072],[3.71,-0.034],[3.81,-0.023],[3.89,-0.019],[3.98,-0.064],[4.08,-0.049],[4.16,-0.027],[4.25,0.014],[4.33,0.003],[4.43,0.007],[4.51,-0.016],[4.59,-0.019],[4.67,-0.004],[4.76,0.037],[4.81,0.003],[4.87,-0.038],[4.95,-0.046],[5.03,-0.019],[5.11,0.018],[5.21,0.003],[5.30,-0.012],[5.40,-0.034],[5.48,-0.027],[5.59,-0.003],[5.69,-0.001],[5.79,-0.008],[5.89,-0.010],[6.00,-0.012],[6.10,-0.016],[6.21,-0.010],[6.29,-0.019],[6.39,-0.004],[6.49,0.018],[6.57,0.037],[6.65,0.025],[6.76,0.022],[6.87,0.037],[6.96,0.014],[7.06,0.003],[7.14,-0.008],[7.25,0.014],[7.35,0.037],[7.46,0.025],[7.54,0.037],[7.62,0.018],[7.71,0.033],[7.79,0.063],[7.87,0.074],[7.97,0.063],[8.05,0.074],[8.13,0.059],[8.24,0.074],[8.35,0.070],[8.45,0.070],[8.55,0.078],[8.65,0.059],[8.76,0.085],[8.84,0.040],[8.92,0.025],[9.01,0.044],[9.09,0.093],[9.19,0.119],[9.27,0.100],[9.34,0.025],[9.40,0.055],[9.45,0.010],[9.52,0.078],[9.59,0.168],[9.63,0.231],[9.67,0.138],[9.71,-0.012],[9.77,-0.154],[9.83,-0.079],[9.89,-0.105],[9.95,-0.113],[10.01,-0.042],[10.09,-0.034],[10.18,-0.027],[10.26,-0.001],[10.34,-0.016],[10.42,-0.012],[10.52,0.037],[10.60,0.014],[10.71,-0.004],[10.82,0.033],[10.92,0.014],[11.02,0.037],[11.12,0.018],[11.20,0.025],[11.30,0.048],[11.39,0.059],[11.48,0.063],[11.56,0.048],[11.66,0.022],[11.74,0.003],[11.82,0.010],[11.91,0.003],[12.01,0.029],[12.09,0.018],[12.16,-0.004],[12.26,0.003],[12.34,-0.012],[12.42,-0.034],[12.51,-0.057],[12.57,-0.072],[12.65,-0.049],[12.73,-0.034],[12.81,-0.049],[12.89,-0.038],[12.98,-0.016]];
const obsSanJuan = [[1.00,0.018],[1.08,0.024],[1.14,0.036],[1.21,0.030],[1.27,0.042],[1.33,0.024],[1.39,-0.022],[1.45,-0.046],[1.52,-0.079],[1.58,-0.073],[1.64,-0.034],[1.72,-0.022],[1.80,-0.022],[1.86,-0.086],[1.93,-0.073],[2.01,-0.034],[2.11,-0.025],[2.19,-0.064],[2.26,-0.040],[2.33,-0.034],[2.41,-0.064],[2.49,-0.031],[2.57,-0.058],[2.63,-0.037],[2.69,-0.001],[2.77,0.002],[2.85,0.004],[2.92,-0.010],[2.99,-0.083],[3.08,-0.028],[3.14,-0.052],[3.20,-0.116],[3.28,-0.028],[3.33,-0.022],[3.41,-0.052],[3.50,-0.076],[3.59,-0.052],[3.68,-0.028],[3.78,-0.034],[3.84,0.027],[3.92,-0.022],[4.01,-0.049],[4.09,-0.034],[4.17,-0.028],[4.27,0.039],[4.34,0.024],[4.43,0.024],[4.52,-0.034],[4.60,-0.022],[4.67,0.008],[4.75,0.036],[4.81,-0.010],[4.90,-0.083],[4.98,-0.064],[5.06,-0.001],[5.12,0.005],[5.20,-0.010],[5.28,-0.022],[5.37,-0.037],[5.45,-0.052],[5.53,-0.043],[5.61,-0.034],[5.69,-0.022],[5.79,-0.034],[5.90,-0.043],[6.00,-0.034],[6.08,-0.016],[6.16,-0.034],[6.27,-0.034],[6.35,-0.043],[6.44,-0.025],[6.52,0.012],[6.60,-0.007],[6.70,-0.010],[6.78,-0.022],[6.89,0.015],[6.97,-0.010],[7.05,-0.019],[7.18,-0.021],[7.28,0.024],[7.38,-0.001],[7.48,-0.007],[7.57,-0.037],[7.63,-0.046],[7.71,-0.022],[7.80,0.015],[7.88,0.051],[7.96,0.027],[8.04,0.002],[8.12,0.051],[8.22,0.033],[8.33,0.096],[8.41,0.039],[8.49,0.051],[8.60,0.052],[8.70,0.087],[8.80,0.075],[8.91,0.045],[9.01,0.039],[9.09,0.057],[9.15,0.115],[9.21,0.175],[9.28,0.130],[9.33,0.036],[9.40,0.063],[9.46,0.039],[9.53,0.063],[9.61,0.100],[9.67,-0.004],[9.73,-0.076],[9.80,-0.052],[9.90,-0.095],[9.98,-0.037],[10.06,-0.034],[10.17,-0.001],[10.27,0.027],[10.37,-0.007],[10.47,0.027],[10.57,-0.016],[10.66,-0.019],[10.74,0.024],[10.84,0.048],[10.94,0.048],[11.05,0.042],[11.17,0.039],[11.25,0.051],[11.35,0.084],[11.43,0.087],[11.52,0.118],[11.58,0.081],[11.68,0.048],[11.79,0.024],[11.87,0.048],[11.98,0.069],[12.06,0.045],[12.14,-0.016],[12.20,-0.004],[12.28,0.033],[12.37,0.045],[12.43,0.027],[12.49,-0.040],[12.57,-0.055],[12.65,-0.034],[12.73,-0.010],[12.81,-0.010],[12.89,0.008],[12.99,0.021]];
const obsArecibo = [[1.00,0.017],[1.07,0.027],[1.13,0.042],[1.20,0.017],[1.28,0.032],[1.36,-0.027],[1.43,-0.058],[1.49,-0.058],[1.55,-0.076],[1.65,-0.051],[1.73,-0.029],[1.80,-0.064],[1.87,-0.110],[1.96,-0.068],[2.04,-0.043],[2.13,-0.031],[2.20,-0.064],[2.29,-0.029],[2.39,-0.085],[2.48,-0.051],[2.56,-0.076],[2.64,-0.037],[2.75,-0.018],[2.83,-0.006],[2.91,-0.041],[2.97,-0.076],[3.05,-0.029],[3.11,-0.068],[3.18,-0.112],[3.24,-0.068],[3.32,-0.014],[3.41,-0.060],[3.51,-0.085],[3.59,-0.060],[3.69,-0.043],[3.79,0.007],[3.88,-0.027],[3.94,-0.076],[4.04,-0.064],[4.12,-0.056],[4.21,-0.006],[4.29,0.036],[4.37,0.011],[4.45,-0.027],[4.54,-0.043],[4.62,-0.006],[4.70,-0.004],[4.78,0.042],[4.84,-0.010],[4.91,-0.083],[4.99,-0.035],[5.07,0.005],[5.17,-0.010],[5.25,-0.006],[5.35,-0.062],[5.44,-0.035],[5.54,-0.035],[5.65,-0.018],[5.76,-0.033],[5.86,-0.022],[5.95,-0.041],[6.05,-0.020],[6.14,-0.035],[6.23,-0.027],[6.33,-0.047],[6.41,-0.014],[6.49,0.013],[6.57,-0.006],[6.68,-0.008],[6.78,-0.018],[6.87,0.005],[6.95,-0.018],[7.05,-0.012],[7.15,-0.020],[7.23,-0.002],[7.31,0.017],[7.40,0.007],[7.48,0.000],[7.59,-0.025],[7.67,-0.035],[7.75,-0.002],[7.83,0.036],[7.90,0.059],[7.96,0.032],[8.02,0.007],[8.11,0.075],[8.19,0.056],[8.27,0.086],[8.33,0.108],[8.41,0.059],[8.49,0.065],[8.58,0.061],[8.68,0.071],[8.78,0.067],[8.86,0.050],[8.95,0.038],[9.03,0.034],[9.11,0.073],[9.21,0.173],[9.29,0.098],[9.36,0.023],[9.44,0.077],[9.50,0.036],[9.57,0.056],[9.63,0.150],[9.71,0.040],[9.76,-0.045],[9.81,-0.031],[10.51,-0.031],[10.58,0.038],[10.66,-0.031],[10.76,0.032],[10.88,0.042],[10.99,0.044],[11.09,0.044],[11.17,0.048],[11.26,0.079],[11.36,0.090],[11.44,0.115],[11.52,0.129],[11.59,0.067],[11.68,0.048],[11.75,0.036],[11.82,0.021],[11.90,0.052],[12.00,0.063],[12.08,0.036],[12.15,0.011],[12.21,-0.014],[12.29,0.036],[12.35,0.048],[12.43,0.032],[12.50,-0.002],[12.56,-0.051],[12.62,-0.047],[12.68,-0.027],[12.74,0.005],[12.82,0.000],[12.90,0.021],[12.98,0.021]];
const obsMagueyes = [[1.00,0.327],[1.02,0.176],[1.05,0.063],[1.09,0.002],[1.12,-0.040],[1.16,0.011],[1.21,0.044],[1.27,0.007],[1.34,0.021],[1.40,-0.017],[1.48,-0.031],[1.56,-0.059],[1.62,-0.073],[1.68,-0.031],[1.75,-0.036],[1.82,-0.092],[1.90,-0.073],[1.97,-0.040],[2.08,-0.031],[2.17,-0.040],[2.27,-0.040],[2.37,-0.050],[2.48,-0.050],[2.59,-0.078],[2.65,-0.064],[2.75,-0.008],[2.83,-0.020],[2.93,-0.026],[3.04,-0.040],[3.14,-0.050],[3.25,-0.050],[3.33,-0.064],[3.43,-0.069],[3.53,-0.078],[3.62,-0.083],[3.70,-0.045],[3.81,-0.036],[3.89,-0.050],[3.98,-0.073],[4.07,-0.045],[4.15,-0.022],[4.23,0.014],[4.32,-0.008],[4.42,-0.017],[4.52,-0.017],[4.63,0.002],[4.73,0.035],[4.79,0.007],[4.85,-0.040],[4.91,-0.055],[4.99,-0.022],[5.10,-0.003],[5.21,-0.008],[5.30,-0.050],[5.40,-0.050],[5.51,-0.022],[5.62,-0.003],[5.73,-0.008],[5.83,-0.014],[5.94,-0.024],[6.06,-0.022],[6.17,-0.022],[6.25,-0.040],[6.33,-0.022],[6.41,0.007],[6.52,0.025],[6.62,0.021],[6.72,0.016],[6.83,0.040],[6.91,0.030],[7.02,0.025],[7.12,0.007],[7.22,0.018],[7.32,0.016],[7.43,0.024],[7.53,0.008],[7.63,-0.001],[7.71,0.021],[7.82,0.058],[7.93,0.077],[8.01,0.068],[8.07,0.115],[8.15,0.077],[8.24,0.096],[8.32,0.110],[8.40,0.082],[8.48,0.096],[8.59,0.091],[8.69,0.077],[8.79,0.082],[8.87,0.049],[8.94,0.030],[9.04,0.035],[9.10,0.058],[9.17,0.110],[9.24,0.091],[9.31,0.049],[9.37,0.011],[9.45,0.101],[9.51,0.030],[9.58,0.054],[9.62,0.233],[9.65,0.341],[9.80,0.346],[9.96,0.338],[10.17,0.338],[10.29,0.331]];
const obsMayaguez = [[1.00,0.099],[1.03,0.071],[1.07,0.046],[1.13,0.031],[1.20,0.034],[1.26,0.021],[1.33,-0.010],[1.40,-0.035],[1.49,-0.038],[1.55,-0.057],[1.61,-0.063],[1.69,-0.038],[1.77,-0.035],[1.84,-0.079],[1.88,-0.107],[1.94,-0.066],[2.02,-0.038],[2.12,-0.032],[2.20,-0.026],[2.29,-0.035],[2.37,-0.082],[2.45,-0.066],[2.53,-0.076],[2.61,-0.072],[2.68,-0.063],[2.76,-0.032],[2.82,-0.016],[2.91,-0.026],[2.99,-0.041],[3.07,-0.038],[3.14,-0.079],[3.22,-0.054],[3.30,-0.029],[3.38,-0.051],[3.46,-0.069],[3.55,-0.060],[3.65,-0.063],[3.75,-0.041],[3.82,-0.026],[3.90,-0.051],[3.98,-0.069],[4.06,-0.054],[4.15,-0.029],[4.25,0.024],[4.33,0.002],[4.41,-0.010],[4.49,-0.038],[4.58,-0.026],[4.66,-0.007],[4.74,0.043],[4.80,0.009],[4.86,-0.051],[4.95,-0.054],[5.03,-0.019],[5.11,0.006],[5.21,-0.004],[5.30,-0.022],[5.36,-0.057],[5.44,-0.032],[5.55,-0.004],[5.65,-0.004],[5.75,-0.007],[5.85,-0.007],[5.98,-0.007],[6.07,-0.004],[6.18,-0.016],[6.30,-0.032],[6.40,0.002],[6.51,0.021],[6.61,0.018],[6.72,0.024],[6.80,0.002],[6.90,0.024],[6.98,0.012],[7.09,0.015],[7.17,0.006],[7.27,0.021],[7.38,0.027],[7.48,0.018],[7.58,0.012],[7.65,-0.001],[7.72,0.027],[7.83,0.056],[7.91,0.049],[7.99,0.062],[8.08,0.105],[8.16,0.084],[8.24,0.087],[8.31,0.115],[8.39,0.077],[8.49,0.087],[8.59,0.081],[8.70,0.077],[8.80,0.081],[8.88,0.059],[8.96,0.043],[9.04,0.046],[9.12,0.087],[9.20,0.143],[9.27,0.099],[9.34,0.031],[9.40,0.052],[9.48,0.049],[9.54,0.052],[9.60,0.109],[9.64,0.099]];
const obsMona = [[1.00,0.015],[1.04,0.057],[1.09,0.080],[1.16,0.057],[1.22,0.042],[1.29,0.073],[1.35,0.181],[1.41,0.135],[1.45,-0.020],[1.54,-0.090],[1.60,-0.094],[1.66,-0.055],[1.74,-0.012],[1.81,-0.036],[1.86,-0.055],[1.96,-0.039],[2.07,-0.043],[2.17,-0.063],[2.25,-0.086],[2.36,-0.082],[2.46,-0.063],[2.54,-0.082],[2.61,-0.105],[2.69,-0.090],[2.77,-0.028],[2.84,-0.051],[2.92,-0.074],[3.00,-0.113],[3.06,-0.086],[3.14,0.007],[3.21,-0.036],[3.27,-0.105],[3.35,-0.024],[3.42,-0.063],[3.50,-0.086],[3.60,-0.055],[3.68,-0.055],[3.78,0.042],[3.86,0.011],[3.92,-0.039],[4.00,-0.036],[4.09,-0.016],[4.18,-0.001],[4.29,0.003],[4.37,-0.005],[4.45,-0.020],[4.54,-0.005],[4.62,-0.016],[4.70,-0.036],[4.76,-0.028],[4.81,-0.078],[4.88,-0.144],[4.94,-0.105],[5.01,-0.074],[5.09,-0.063],[5.20,-0.082],[5.30,-0.097],[5.39,-0.109],[5.49,-0.086],[5.61,-0.078],[5.73,-0.082],[5.86,-0.067],[5.97,-0.074],[6.08,-0.059],[6.19,-0.043],[6.31,-0.024],[6.41,0.003],[6.49,0.026],[6.60,0.022],[6.70,0.015],[6.80,0.034],[6.89,0.053],[6.98,0.057],[7.07,0.053],[7.15,0.038],[7.26,0.042],[7.34,0.042],[7.44,0.015],[7.55,0.007],[7.63,-0.024],[7.71,-0.005],[7.81,0.026],[7.89,0.050],[7.98,0.034],[8.08,0.057],[8.16,0.034],[8.25,0.042],[8.33,0.069],[8.41,0.034],[8.52,0.030],[8.62,0.026],[8.72,0.022],[8.83,0.022],[8.92,0.007],[9.01,0.026],[9.10,0.111],[9.20,0.197],[9.28,0.150],[9.34,0.042],[9.40,0.088],[9.46,0.042],[9.53,0.104],[9.58,0.011],[9.65,0.243],[9.71,0.088],[9.77,-0.036],[9.84,0.011],[9.92,-0.001],[10.00,-0.016],[10.10,0.007],[10.18,-0.005],[10.28,0.022],[10.37,0.015],[10.45,0.042],[10.53,0.015],[10.61,0.011],[10.70,0.038],[10.78,0.046],[10.86,-0.012],[10.94,-0.016],[11.03,-0.009],[11.11,-0.016],[11.22,0.038],[11.30,0.073],[11.40,0.080],[11.50,0.100],[11.58,0.042],[11.67,-0.024],[11.75,0.011],[11.83,0.057],[11.91,0.077],[11.99,0.088],[12.08,0.069],[12.16,0.077],[12.24,0.096],[12.32,0.073],[12.41,0.069],[12.49,0.003],[12.55,-0.059],[12.61,-0.063],[12.70,-0.039],[12.78,-0.051],[12.86,-0.036],[12.94,-0.024],[12.98,0.011]];

// ---------- panel assembly (row-major order) ----------
const panelObs = [obsStGeorges,obsBermudaBio,obsChristiansted,obsLimeTree,obsLameshur,obsCharlotte,obsCulebra,obsIsabel,obsEsperanza,obsFajardo,obsYabucoa,obsSanJuan,obsArecibo,obsMagueyes,obsMayaguez,obsMona];
const panelModelT = [bermudaT,bermudaT].concat(new Array(14).fill(caribT));
const panelModel = [bermudaModel,bermudaModel,modelChristiansted,modelLimeTree,modelLameshur,modelCharlotte,modelCulebra,modelIsabel,modelEsperanza,modelFajardo,modelYabucoa,modelSanJuan,modelArecibo,modelMagueyes,modelMayaguez,modelMona];

const colLeft = [88,1372,2655,3939], rowTop = [37,431,822,1215];
const W = 1201, H = 333;
const FONT = 'DejaVu Sans';

function zip(t, v){ const n=Math.min(t.length,v.length); const o=[]; for(let i=0;i<n;i++) o.push([t[i],v[i]]); return o; }
function ticks(min,max,step){ const o=[]; for(let k=Math.ceil(min/step-1e-9); k*step<=max+1e-9; k++){ let v=Math.round(k*step*1e6)/1e6; if(Math.abs(v)<1e-9) v=0; o.push(v);} return o; }

const grids=[], xAxes=[], yAxes=[], series=[], titleOpts=[];
for(let i=0;i<16;i++){
  const r=Math.floor(i/4), c=i%4;
  grids.push({left:colLeft[c], top:rowTop[r], width:W, height:H, show:true, borderColor:'#000', borderWidth:1, backgroundColor:'transparent'});
  titleOpts.push({text:titles[i], left:colLeft[c]+W/2, top:rowTop[r]-24, textAlign:'center', padding:0,
    textStyle:{fontSize:17, fontWeight:'normal', fontFamily:FONT, color:'#000'}});
  xAxes.push({type:'value', gridIndex:i, min:xMin, max:xMax,
    axisLine:{show:true, onZero:false, lineStyle:{color:'#000', width:1}},
    axisTick:{show:true, length:5, customValues:xTicks, lineStyle:{color:'#000'}},
    axisLabel:{customValues:xTicks, color:'#000', fontSize:14, fontFamily:FONT, margin:7},
    splitLine:{show:false}});
  const dec = yStep[i] >= 0.1 ? 1 : 2;
  const yt = ticks(yMin[i], yMax[i], yStep[i]);
  const showName = (c===0 || c===2);
  yAxes.push({type:'value', gridIndex:i, min:yMin[i], max:yMax[i],
    name: showName ? 'Elevation (m)' : '', nameLocation:'middle', nameGap: dec===1 ? 52 : 60,
    nameTextStyle:{fontSize:14, color:'#000', fontFamily:FONT},
    axisLine:{show:true, onZero:false, lineStyle:{color:'#000', width:1}},
    axisTick:{show:true, length:5, customValues:yt, lineStyle:{color:'#000'}},
    axisLabel:{customValues:yt, color:'#000', fontSize:14, fontFamily:FONT, margin:8,
      formatter:(v)=>{ const s=(Math.abs(v)<1e-9?0:v).toFixed(dec); return s.replace('-','\u2212'); }},
    splitLine:{show:false}});
  const md = zip(panelModelT[i], panelModel[i]);
  series.push({name:'Obs', type:'line', xAxisIndex:i, yAxisIndex:i, data:panelObs[i], symbol:'none', showSymbol:false, smooth:0.25,
    lineStyle:{color:'#ff0000', width:2, type:[12.8,3.2,2,3.2]}, itemStyle:{color:'#ff0000'}, z:2});
  series.push({name:'RUN100f', type:'line', xAxisIndex:i, yAxisIndex:i, data:md, symbol:'none', showSymbol:false, smooth:0.45,
    lineStyle:{color:'#008000', width:1}, itemStyle:{color:'#008000'}, z:3});
  series.push({name:'RUN100f_online', type:'line', xAxisIndex:i, yAxisIndex:i, data:md, symbol:'none', showSymbol:false, smooth:0.45,
    lineStyle:{color:'#0000ff', width:1}, itemStyle:{color:'#0000ff'}, z:4});
}

const chart = echarts.init(document.getElementById('c'), null, {renderer:'canvas', width:5150, height:1950});
chart.setOption({
  backgroundColor:'#ffffff',
  animation:false,
  title:titleOpts,
  grid:grids, xAxis:xAxes, yAxis:yAxes, series:series,
  legend:{data:legendNames, orient:'vertical', right:5150-1277, top:44, itemWidth:28, itemHeight:14, itemGap:7,
    padding:[6,8,6,8], backgroundColor:'rgba(255,255,255,0.8)', borderColor:'#cccccc', borderWidth:1, borderRadius:4,
    itemStyle:{opacity:0, borderWidth:0},
    textStyle:{fontSize:14, fontFamily:FONT, color:'#000'}}
});
</script></body></html>
